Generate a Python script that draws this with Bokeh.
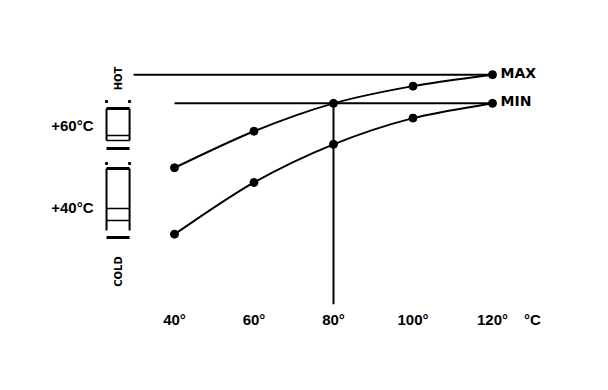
import numpy as np
from bokeh.plotting import figure
from bokeh.models import FixedTicker, Range1d, ColumnDataSource
from bokeh.core.properties import value
from bokeh.embed import file_html
from bokeh.resources import INLINE

# ---------------- data ----------------
temps = [40, 60, 80, 100, 120]                    # x categories (°C)
tick_labels = ["40°", "60°", "80°", "100°", "120°"]
curve_max = [49.7, 58.6, 65.4, 69.6, 72.4]        # upper curve (MAX)
curve_min = [33.5, 46.1, 55.4, 61.8, 65.4]        # lower curve (MIN)
level_values = [40, 60]
level_labels = ["+40°C", "+60°C"]
series_names = ["MAX", "MIN"]
unit_label = "°C"
unit_pos = 130.06
zone_labels = ["HOT", "COLD"]

# ---------------- layout ----------------
W, H = 600, 382
FRAME_L, FRAME_T, FRAME_B = 100, 8, 78
PX_X, PX_Y = 3.975, 4.1
x0 = 21.384
y0 = 16.34
x1 = x0 + (W - FRAME_L) / PX_X
y1 = y0 + (H - FRAME_B - FRAME_T) / PX_Y

p = figure(width=W, height=H, output_backend="svg", toolbar_location=None,
           x_range=Range1d(x0, x1), y_range=Range1d(y0, y1),
           min_border_left=FRAME_L, min_border_right=0, min_border_top=FRAME_T,
           min_border_bottom=FRAME_B, background_fill_color="white",
           border_fill_color="white")
p.outline_line_color = None
p.grid.visible = False

# x axis (unit label sits at the end of the tick row)
xa = p.xaxis[0]
xa.ticker = FixedTicker(ticks=temps + [unit_pos])
overrides = {t: l for t, l in zip(temps, tick_labels)}
overrides[unit_pos] = unit_label
xa.major_label_overrides = overrides
xa.axis_line_color = None
xa.major_tick_line_color = None
xa.minor_tick_line_color = None
xa.major_tick_out = 0
xa.major_tick_in = 0
xa.major_label_standoff = 6
xa.major_label_text_font = "Liberation Sans"
xa.major_label_text_font_style = "bold"
xa.major_label_text_font_size = "15px"
xa.major_label_text_color = "black"

# y axis
ya = p.yaxis[0]
ya.ticker = FixedTicker(ticks=level_values)
ya.major_label_overrides = {t: l for t, l in zip(level_values, level_labels)}
ya.axis_line_color = None
ya.major_tick_line_color = None
ya.minor_tick_line_color = None
ya.major_tick_out = 0
ya.major_tick_in = 0
ya.major_label_standoff = 7
ya.major_label_text_font = "Liberation Sans"
ya.major_label_text_font_style = "bold"
ya.major_label_text_font_size = "15px"
ya.major_label_text_color = "black"

max_level = curve_max[-1]
min_level = curve_min[-1]

# reference lines
MAX_LINE_START = 29.7
p.segment(x0=[MAX_LINE_START], y0=[max_level], x1=[temps[-1]], y1=[max_level],
          line_color="black", line_width=2)
p.segment(x0=[temps[0]], y0=[min_level], x1=[temps[-1]], y1=[min_level],
          line_color="black", line_width=2)
p.segment(x0=[temps[2]], y0=[curve_max[2]], x1=[temps[2]], y1=[y0],
          line_color="black", line_width=2)


def bezier_src(xs, ys):
    pts = np.column_stack([xs, ys]).astype(float)
    n = len(pts)
    d = dict(x0=[], y0=[], x1=[], y1=[], cx0=[], cy0=[], cx1=[], cy1=[])
    for i in range(n - 1):
        pm = pts[i - 1] if i > 0 else pts[i]
        pa, pb = pts[i], pts[i + 1]
        pn = pts[i + 2] if i + 2 < n else pts[i + 1]
        c0 = pa + (pb - pm) / 6.0
        c1 = pb - (pn - pa) / 6.0
        d["x0"].append(pa[0]); d["y0"].append(pa[1])
        d["x1"].append(pb[0]); d["y1"].append(pb[1])
        d["cx0"].append(c0[0]); d["cy0"].append(c0[1])
        d["cx1"].append(c1[0]); d["cy1"].append(c1[1])
    return ColumnDataSource(d)


for ys in (curve_max, curve_min):
    p.bezier(x0="x0", y0="y0", x1="x1", y1="y1", cx0="cx0", cy0="cy0",
             cx1="cx1", cy1="cy1", source=bezier_src(temps, ys),
             line_color="black", line_width=2)
    p.scatter(temps, ys, size=8, color="black")

# end labels
p.text(x=[temps[-1], temps[-1]], y=[max_level, min_level], text=series_names,
       x_offset=8, y_offset=-2, text_align="left", text_baseline="middle",
       text_font=value("DejaVu Sans"), text_font_style="bold",
       text_font_size="14px", text_color="black")

# ---- left scale boxes (hot / cold) ----
BX0, BX1 = 22.9, 28.7
BXC = (BX0 + BX1) / 2
# upper (hot) box
up_dot, up_top, up_inner, up_bot, up_bar = 65.85, 64.15, 57.56, 56.34, 54.39
# lower (cold) box
lo_dot, lo_top, lo_l1, lo_l2, lo_bot, lo_bar = 50.73, 49.51, 39.76, 36.83, 34.39, 32.68

p.scatter([BX0, BX1, BX0, BX1], [up_dot, up_dot, lo_dot, lo_dot], marker="square",
          size=2, color="black")
# sides
p.segment(x0=[BX0, BX1, BX0, BX1], y0=[up_top, up_top, lo_top, lo_top],
          x1=[BX0, BX1, BX0, BX1], y1=[up_bot, up_bot, lo_bot, lo_bot],
          line_color="black", line_width=2)
# thick lines
p.segment(x0=[BX0] * 4, x1=[BX1] * 4, y0=[up_top, up_bar, lo_top, lo_bar],
          y1=[up_top, up_bar, lo_top, lo_bar], line_color="black", line_width=3)
# thin lines
p.segment(x0=[BX0] * 4, x1=[BX1] * 4, y0=[up_inner, up_bot, lo_l1, lo_l2],
          y1=[up_inner, up_bot, lo_l1, lo_l2], line_color="black", line_width=1.5)

p.text(x=[BXC, BXC], y=[71.46, 24.39], text=zone_labels, angle=np.pi / 2,
       text_align="center", text_baseline="middle",
       text_font=value("DejaVu Sans"), text_font_style="bold",
       text_font_size="10px", text_color="black")

open("out.html", "w").write(file_html(p, INLINE))
